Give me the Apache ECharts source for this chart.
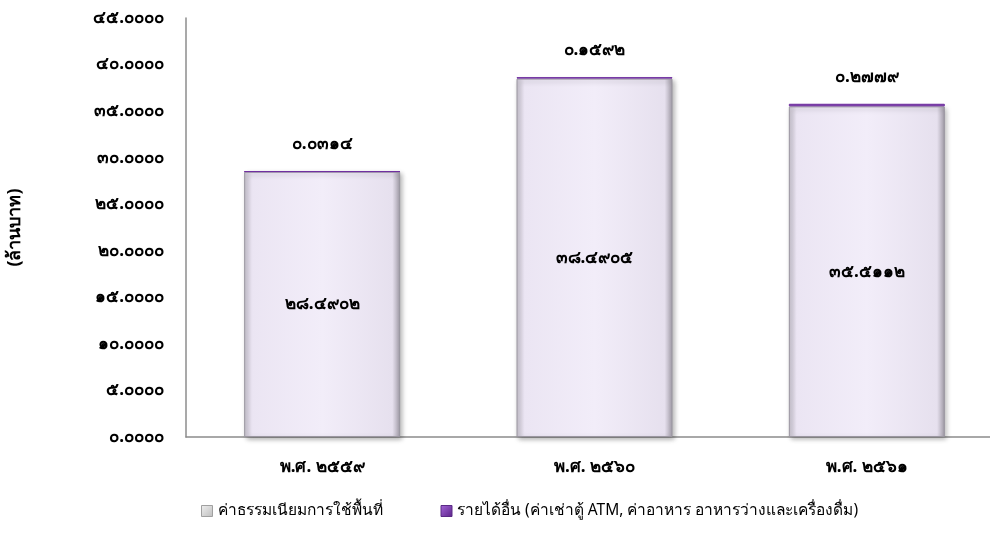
<!DOCTYPE html>
<html><head><meta charset="utf-8">
<script src="https://cdn.jsdelivr.net/npm/echarts@6/dist/echarts.min.js"></script>
<style>html,body{margin:0;padding:0;background:#fff}#c{width:990px;height:535px}</style>
</head><body><div id="c"></div>
<script>
const categories = ['พ.ศ. 2559', 'พ.ศ. 2560', 'พ.ศ. 2561'];
const feeValues = [28.4902, 38.4905, 35.5112];
const otherValues = [0.0314, 0.1592, 0.2779];
const seriesNames = ['ค่าธรรมเนียมการใช้พื้นที่', 'รายได้อื่น (ค่าเช่าตู้ ATM, ค่าอาหาร อาหารว่างและเครื่องดื่ม)'];
const yTicks = [0, 5, 10, 15, 20, 25, 30, 35, 40, 45];

const thaiDigits = '๐๑๒๓๔๕๖๗๘๙';
function toThai(s) { return String(s).replace(/[0-9]/g, d => thaiDigits[+d]); }

const chart = echarts.init(document.getElementById('c'));
const FONT = 'Noto Sans';
chart.setOption({
  animation: false,
  grid: { left: 186, width: 817, top: 18, bottom: 98, outerBoundsMode: 'none', containLabel: false },
  legend: {
    left: 196, bottom: 11, itemGap: 58, itemWidth: 11, itemHeight: 11,
    textStyle: { fontSize: 15.5, color: '#000', fontFamily: FONT },
    data: [
      { name: seriesNames[0], icon: 'rect', itemStyle: { color: { type: 'linear', x: 0, y: 0, x2: 1, y2: 1, colorStops: [{ offset: 0, color: '#f0f0f0' }, { offset: 1, color: '#bdbdbd' }] }, borderColor: '#a0a0a0', borderWidth: 1 } },
      { name: seriesNames[1], icon: 'rect', itemStyle: { color: { type: 'linear', x: 0, y: 0, x2: 1, y2: 1, colorStops: [{ offset: 0, color: '#a466d8' }, { offset: 1, color: '#5b2288' }] }, borderColor: '#5a2a85', borderWidth: 1 } }
    ]
  },
  xAxis: {
    type: 'category', data: categories,
    axisLine: { lineStyle: { color: '#8c8c8c', width: 1.5 } },
    axisTick: { show: false },
    axisLabel: { margin: 22, fontSize: 17, fontWeight: 'bold', color: '#000', fontFamily: FONT, formatter: v => toThai(v) }
  },
  yAxis: {
    type: 'value', min: 0, max: 45, interval: 5,
    name: '(ล้านบาท)', nameLocation: 'middle', nameGap: 162,
    nameTextStyle: { fontSize: 18, fontWeight: 'bold', color: '#000', fontFamily: FONT },
    axisLine: { show: true, lineStyle: { color: '#8c8c8c', width: 1.5 } },
    axisTick: { show: false },
    splitLine: { show: false },
    axisLabel: { margin: 22, fontSize: 17, fontWeight: 'bold', color: '#000', fontFamily: FONT,
      formatter: v => toThai(v.toFixed(4)) }
  },
  series: [
    {
      name: seriesNames[0], type: 'bar', stack: 's', barWidth: 156,
      data: feeValues,
      itemStyle: {
        color: { type: 'linear', x: 0, y: 0, x2: 1, y2: 0, colorStops: [
          { offset: 0, color: '#c8c3cf' }, { offset: 0.05, color: '#ebe5f3' },
          { offset: 0.5, color: '#f2edf9' }, { offset: 0.95, color: '#e6e0ee' },
          { offset: 1, color: '#a09ba6' }] },
        borderColor: '#9a96a0', borderWidth: 1,
        shadowBlur: 5, shadowColor: 'rgba(0,0,0,0.3)', shadowOffsetX: 2, shadowOffsetY: 2
      },
      label: { show: true, position: 'inside', fontSize: 17, fontWeight: 'bold', color: '#000', fontFamily: FONT,
        formatter: p => toThai(p.value.toFixed(4)) }
    },
    {
      name: seriesNames[1], type: 'bar', stack: 's', barWidth: 156,
      data: otherValues,
      itemStyle: { color: '#7030a0', borderColor: '#7030a0', borderWidth: 1 },
      label: { show: true, position: 'top', distance: 18, fontSize: 17, fontWeight: 'bold', color: '#000', fontFamily: FONT,
        formatter: p => toThai(p.value.toFixed(4)) }
    }
  ]
});
</script></body></html>
